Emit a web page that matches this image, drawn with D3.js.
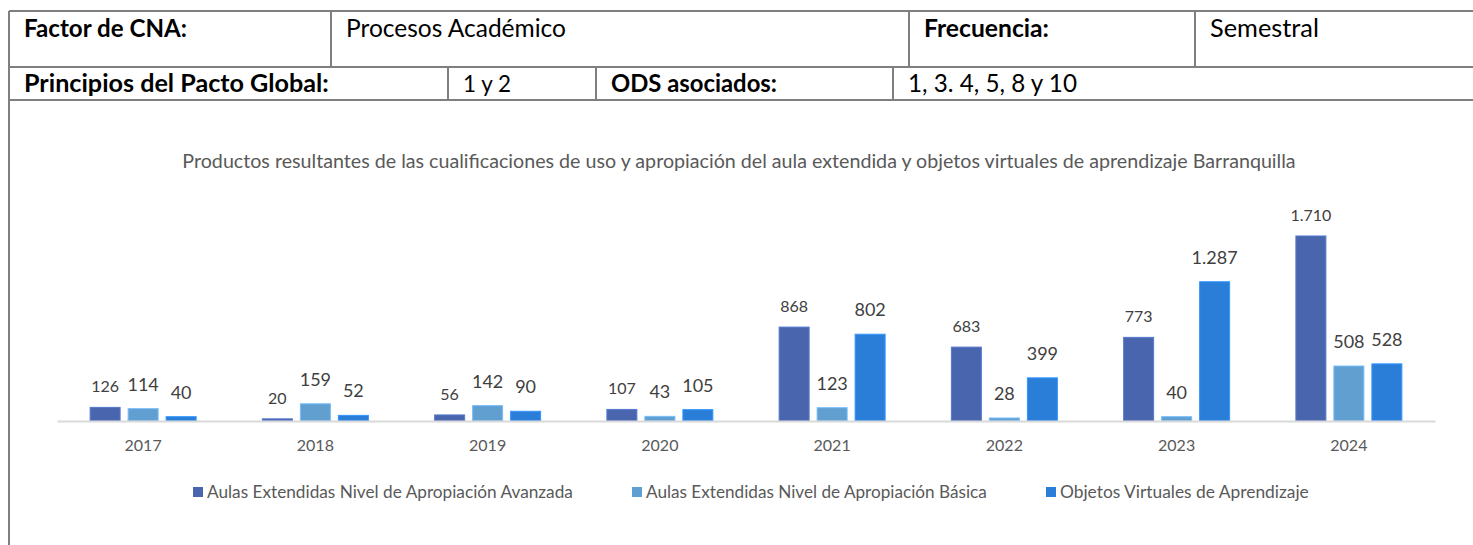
<!DOCTYPE html>
<html>
<head>
<meta charset="utf-8">
<script src="https://cdn.jsdelivr.net/npm/d3@7"></script>
<style>
  html, body { margin: 0; padding: 0; background: #fff; }
  svg { display: block; font-family: Lato, "Open Sans", sans-serif; }
</style>
</head>
<body>
<svg id="chart" width="1473" height="545"></svg>
<script>
// ---------- data ----------
const years = ["2017", "2018", "2019", "2020", "2021", "2022", "2023", "2024"];
const seriesNames = [
  "Aulas Extendidas Nivel de Apropiación Avanzada",
  "Aulas Extendidas Nivel de Apropiación Básica",
  "Objetos Virtuales de Aprendizaje"
];
const avanzada = [126, 20, 56, 107, 868, 683, 773, 1710];
const basica   = [114, 159, 142, 43, 123, 28, 40, 508];
const objetos  = [40, 52, 90, 105, 802, 399, 1287, 528];
const seriesColors = ["#4865ae", "#629fd1", "#2a7ed7"];
const chartTitle = "Productos resultantes de las cualificaciones de uso y apropiación del aula extendida y objetos virtuales de aprendizaje Barranquilla";

const tableRow1 = [
  { text: "Factor de CNA:", bold: true },
  { text: "Procesos Académico", bold: false },
  { text: "Frecuencia:", bold: true },
  { text: "Semestral", bold: false }
];
const tableRow2 = [
  { text: "Principios del Pacto Global:", bold: true },
  { text: "1 y 2", bold: false },
  { text: "ODS asociados:", bold: true },
  { text: "1, 3. 4, 5, 8 y 10", bold: false }
];

// ---------- layout ----------
const svg = d3.select("#chart");
const W = 1473, H = 545;
const tblLeft = 9, tblTop = 11, row1Bot = 67, row2Bot = 100;
const row1Cols = [tblLeft, 331, 909, 1195, W + 5];
const row2Cols = [tblLeft, 448, 596, 893, W + 5];
const row1TextW = [163, 220, 125, 109];
const row2TextW = [305, 48, 166, 169];
const borderColor = "#7f7f7f";

function fit(sel, w) {
  const n = sel.node();
  const cur = n.getComputedTextLength();
  const fs = parseFloat(sel.style("font-size"));
  sel.style("font-size", (fs * w / cur) + "px");
  return sel;
}

// table borders
const grid = svg.append("g").attr("stroke", borderColor).attr("stroke-width", 2).attr("fill", "none");
[tblTop, row1Bot, row2Bot].forEach(y => grid.append("line").attr("x1", tblLeft).attr("x2", W + 5).attr("y1", y).attr("y2", y));
grid.append("line").attr("x1", tblLeft).attr("x2", tblLeft).attr("y1", tblTop).attr("y2", H + 5);
row1Cols.slice(1, 4).forEach(x => grid.append("line").attr("x1", x).attr("x2", x).attr("y1", tblTop).attr("y2", row1Bot));
row2Cols.slice(1, 4).forEach(x => grid.append("line").attr("x1", x).attr("x2", x).attr("y1", row1Bot).attr("y2", row2Bot));

function tableRow(cells, cols, widths, baseY) {
  cells.forEach((c, i) => {
    const t = svg.append("text")
      .attr("x", cols[i] + 15)
      .attr("y", baseY)
      .attr("fill", "#000")
      .style("font-size", "20px")
      .style("font-weight", c.bold ? 700 : 400)
      .text(c.text);
    fit(t, widths[i]);
  });
}
tableRow(tableRow1, row1Cols, row1TextW, 37);
tableRow(tableRow2, row2Cols, row2TextW, 92);

// title
const title = svg.append("text")
  .attr("x", 739).attr("y", 168)
  .attr("text-anchor", "middle")
  .attr("fill", "#595959")
  .style("font-size", "16px")
  .text(chartTitle);
fit(title, 1114);

// ---------- chart ----------
const axisY = 421;
const x0 = d3.scaleBand().domain(years).range([57, 1435]).padding(0);
const groupW = 106;
const x1 = d3.scaleBand().domain(seriesNames)
  .range([(x0.bandwidth() - groupW) / 2, (x0.bandwidth() + groupW) / 2])
  .paddingInner(8 / 38).paddingOuter(0);
const y = d3.scaleLinear().domain([0, 2000]).range([axisY, axisY - 216.4]);

const allSeries = [avanzada, basica, objetos];
const data = years.map((yr, i) => ({
  year: yr,
  values: seriesNames.map((s, j) => ({ series: s, idx: j, value: allSeries[j][i] }))
}));

const fmt = v => d3.format(",")(v).replace(/,/g, ".");

const groups = svg.append("g").selectAll("g").data(data).join("g")
  .attr("transform", d => `translate(${x0(d.year)},0)`);

groups.selectAll("rect").data(d => d.values).join("rect")
  .attr("x", d => x1(d.series))
  .attr("width", x1.bandwidth())
  .attr("y", d => y(d.value))
  .attr("height", d => axisY - y(d.value))
  .attr("fill", d => seriesColors[d.idx])
  .attr("stroke", d => d3.color(seriesColors[d.idx]).brighter(0.5))
  .attr("stroke-width", 1);

groups.selectAll("text.lbl").data(d => d.values).join("text")
  .attr("class", "lbl")
  .attr("x", d => x1(d.series) + x1.bandwidth() / 2)
  .attr("y", d => y(d.value) - (d.idx === 0 ? 15 : 18))
  .attr("text-anchor", "middle")
  .attr("fill", "#404040")
  .style("font-size", d => d.idx === 0 ? "16px" : "18px")
  .text(d => fmt(d.value));

// axis
const axis = svg.append("g")
  .attr("transform", `translate(0,${axisY})`)
  .call(d3.axisBottom(x0).tickSize(0).tickPadding(19));
axis.select(".domain").attr("stroke", "#d9d9d9").attr("stroke-width", 2);
axis.selectAll(".tick text")
  .attr("fill", "#595959")
  .style("font-family", "Lato, sans-serif")
  .style("font-size", "16px");

// legend
const legendSwatchX = [193, 632, 1046];
const legendTextW = [366, 341, 249];
const legendY = 492;
const legend = svg.append("g");
seriesNames.forEach((s, i) => {
  legend.append("rect")
    .attr("x", legendSwatchX[i]).attr("y", legendY - 5)
    .attr("width", 10).attr("height", 10)
    .attr("fill", seriesColors[i]);
  const t = legend.append("text")
    .attr("x", legendSwatchX[i] + 14).attr("y", legendY + 5.5)
    .attr("fill", "#595959")
    .style("font-size", "15px")
    .text(s);
  fit(t, legendTextW[i]);
});
</script>
</body>
</html>
